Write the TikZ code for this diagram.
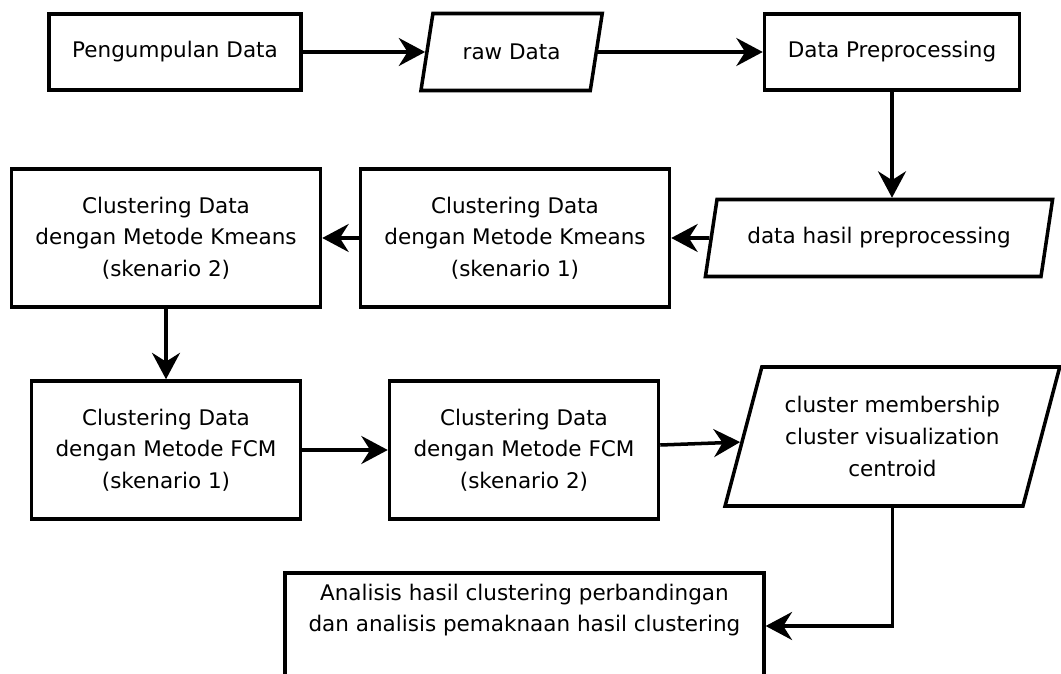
\documentclass[tikz,border=0pt]{standalone}
\usepackage{fontspec}
\setmainfont{DejaVu Sans}
\usetikzlibrary{arrows.meta, positioning, shapes.geometric}

\begin{document}
\begin{tikzpicture}[
          box/.style={draw,line width=2.5pt,align=center,inner sep=2pt,
                      font=\fontsize{15.3}{22.5}\selectfont},
          io/.style={box,trapezium,trapezium left angle=70,
                     trapezium right angle=110,trapezium stretches=true},
          arr/.style={-{Stealth[length=0.66cm,width=0.7cm,inset=0.22cm]},
                      line width=2.5pt}]
        \useasboundingbox (0,0) rectangle (26.525,16.825);
        \node[box,minimum width=6.3cm,minimum height=1.9cm](pd) at (4.375,15.525)
          {Pengumpulan Data};
        \node[io,minimum width=4.575cm,minimum height=1.925cm](raw) at (12.79,15.525)
          {raw Data};
        \node[box,minimum width=6.375cm,minimum height=1.9cm](prep) at (22.3,15.525)
          {Data Preprocessing};
        \node[io,minimum width=8.7cm,minimum height=1.925cm](hasil) at (21.975,10.875)
          {data hasil preprocessing};
        \node[box,minimum width=7.725cm,minimum height=3.45cm](km1) at (12.875,10.875)
          {Clustering Data\\dengan Metode Kmeans\\(skenario 1)};
        \node[box,minimum width=7.725cm,minimum height=3.45cm](km2) at (4.15,10.875)
          {Clustering Data\\dengan Metode Kmeans\\(skenario 2)};
        \node[box,minimum width=6.725cm,minimum height=3.45cm](fcm1) at (4.15,5.575)
          {Clustering Data\\dengan Metode FCM\\(skenario 1)};
        \node[box,minimum width=6.725cm,minimum height=3.45cm](fcm2) at (13.1,5.575)
          {Clustering Data\\dengan Metode FCM\\(skenario 2)};
        \node[io,minimum width=8.375cm,minimum height=3.475cm](out) at (22.31,5.9125)
          {cluster membership\\cluster visualization\\centroid};
        \node[box,anchor=north,minimum width=11.975cm,inner ysep=8pt](ana) at (13.11,2.55)
          {Analisis hasil clustering perbandingan\\
           dan analisis pemaknaan hasil clustering\rule[-1.2cm]{0pt}{0pt}};
        \draw[arr](pd)--(raw);
        \draw[arr](raw)--(prep);
        \draw[arr](prep)--(prep |- hasil.north);
        \draw[arr](hasil)--(km1);
        \draw[arr](km1)--(km2);
        \draw[arr](km2)--(fcm1);
        \draw[arr](fcm1)--(fcm2);
        \draw[arr](fcm2)--(out);
        \draw[arr](out.south)|-([yshift=-1.375cm]ana.north east);
      \end{tikzpicture}
\end{document}
